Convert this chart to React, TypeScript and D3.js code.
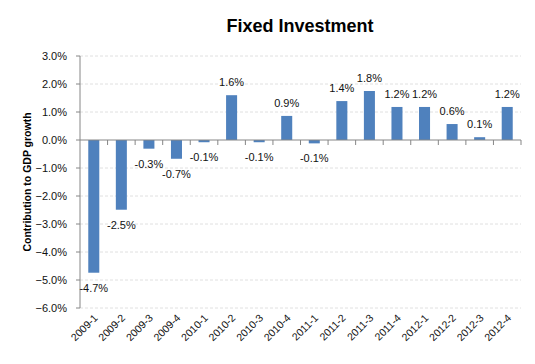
import React from 'react';
import * as d3 from 'd3';

const quarters = [
  '2009-1', '2009-2', '2009-3', '2009-4',
  '2010-1', '2010-2', '2010-3', '2010-4',
  '2011-1', '2011-2', '2011-3', '2011-4',
  '2012-1', '2012-2', '2012-3', '2012-4',
];
const contribution = [
  -4.74, -2.49, -0.31, -0.67, -0.08, 1.6, -0.08, 0.86,
  -0.12, 1.39, 1.75, 1.18, 1.18, 0.57, 0.1, 1.18,
];
const dataLabels = [
  '-4.7%', '-2.5%', '-0.3%', '-0.7%', '-0.1%', '1.6%', '-0.1%', '0.9%',
  '-0.1%', '1.4%', '1.8%', '1.2%', '1.2%', '0.6%', '0.1%', '1.2%',
];
const yTicks = [3, 2, 1, 0, -1, -2, -3, -4, -5, -6];

const width = 535;
const height = 364;
const left = 80;
const right = 521;
const top = 56;
const bottom = 308;
const font = '"Liberation Sans", Arial, sans-serif';

export default function App() {
  const x = d3.scaleBand<string>().domain(quarters).range([left, right]).paddingInner(0.6).paddingOuter(0.3);
  const band = d3.scaleBand<string>().domain(quarters).range([left, right]);
  const y = d3.scaleLinear().domain([-6, 3]).range([bottom, top]);
  const fmt = d3.format('.1f');

  return (
    <svg width={width} height={height} style={{ position: 'absolute', left: 0, top: 0 }}>
      <rect width={width} height={height} fill="#fff" />
      <text x={300} y={32} textAnchor="middle" fontFamily={font} fontWeight="bold" fontSize={18}>
        Fixed Investment
      </text>
      <text
        transform={`translate(31,${(top + bottom) / 2}) rotate(-90)`}
        textAnchor="middle"
        fontFamily={font}
        fontWeight="bold"
        fontSize={10.5}
      >
        Contribution to GDP growth
      </text>

      {yTicks.map(t => (
        <g key={t}>
          {t !== 0 && (
            <line x1={left} x2={right} y1={y(t)} y2={y(t)} stroke="#e0e0e0" strokeDasharray="3,2" />
          )}
          <line x1={left - 4} x2={left} y1={y(t)} y2={y(t)} stroke="#868686" />
          <text x={67} y={y(t)} dy="0.35em" textAnchor="end" fontFamily={font} fontSize={11} fill="#111">
            {fmt(t)}%
          </text>
        </g>
      ))}

      {quarters.map((q, i) => {
        const v = contribution[i];
        return (
          <rect
            key={q}
            x={x(q)}
            width={x.bandwidth()}
            y={y(Math.max(0, v))}
            height={Math.abs(y(v) - y(0))}
            fill="#4f81bd"
          />
        );
      })}

      <line x1={left} x2={left} y1={top} y2={bottom} stroke="#868686" />
      <line x1={left} x2={right} y1={y(0)} y2={y(0)} stroke="#868686" />
      {quarters.map(q => (
        <line key={q} x1={(band(q) as number) + band.bandwidth()} x2={(band(q) as number) + band.bandwidth()} y1={y(0)} y2={y(0) + 5} stroke="#868686" />
      ))}

      {quarters.map((q, i) => {
        const v = contribution[i];
        const cx = (x(q) as number) + x.bandwidth() / 2;
        const ly = v >= 0 ? y(v) - 9 : y(v) + 19;
        return (
          <text key={q} x={cx} y={ly} textAnchor="middle" fontFamily={font} fontSize={11} fill="#111">
            {dataLabels[i]}
          </text>
        );
      })}

      {quarters.map(q => {
        const cx = (band(q) as number) + band.bandwidth() / 2 + 2;
        return (
          <text
            key={q}
            transform={`translate(${cx},${bottom + 8}) rotate(-45)`}
            textAnchor="end"
            dy="0.35em"
            fontFamily={font}
            fontSize={10.5}
            fill="#111"
          >
            {q}
          </text>
        );
      })}
    </svg>
  );
}
